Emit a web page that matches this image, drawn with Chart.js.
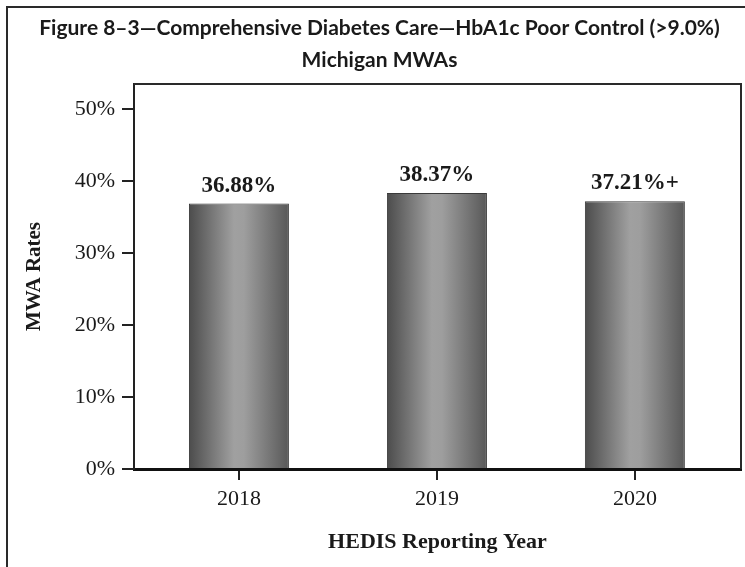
<!DOCTYPE html>
<html><head><meta charset="utf-8">
<script src="https://cdn.jsdelivr.net/npm/chart.js@4"></script>
<style>html,body{margin:0;padding:0;background:#fff}#wrap{width:745px;height:567px;position:relative}</style>
</head><body><div id="wrap"><canvas id="c" width="745" height="567"></canvas></div>
<script>
const titleLines = ['Figure 8–3—Comprehensive Diabetes Care—HbA1c Poor Control (>9.0%)', 'Michigan MWAs'];
const categories = ['2018', '2019', '2020'];
const rates = [36.88, 38.37, 37.21];
const valueLabels = ['36.88%', '38.37%', '37.21%+'];
const yTicks = [0, 10, 20, 30, 40, 50];
const yTitle = 'MWA Rates';
const xTitle = 'HEDIS Reporting Year';

const SERIF = "'Liberation Serif', 'Times New Roman', serif";
const INK = '#1a1a1a';
const BAR_SHARE = 0.505;

function barFill(context) {
  const chart = context.chart;
  const xs = chart.scales && chart.scales.x;
  if (context.type !== 'data' || !xs || !isFinite(xs.left)) return '#888';
  const cx = xs.getPixelForValue(Number(categories[context.dataIndex]));
  const step = Math.abs(xs.getPixelForValue(Number(categories[1])) - xs.getPixelForValue(Number(categories[0])));
  const half = step * BAR_SHARE / 2;
  if (!isFinite(cx) || !isFinite(half) || half <= 0) return '#888';
  const g = chart.ctx.createLinearGradient(cx - half, 0, cx + half, 0);
  g.addColorStop(0, '#4c4c4c');
  g.addColorStop(0.45, '#a0a0a0');
  g.addColorStop(0.55, '#9e9e9e');
  g.addColorStop(1, '#585858');
  return g;
}

const valueText = {
  id: 'valueText',
  afterDatasetsDraw(chart) {
    const ctx = chart.ctx;
    ctx.save();
    ctx.font = "bold 23px " + SERIF;
    ctx.fillStyle = INK;
    ctx.textAlign = 'center';
    ctx.textBaseline = 'middle';
    chart.getDatasetMeta(0).data.forEach((el, i) => {
      ctx.fillText(valueLabels[i], el.x, el.y - 18);
    });
    ctx.restore();
  }
};

const frames = {
  id: 'frames',
  afterDraw(chart) {
    const ctx = chart.ctx;
    const a = chart.chartArea;
    ctx.save();
    ctx.strokeStyle = '#2a2a2a';
    ctx.lineWidth = 2;
    ctx.beginPath();
    ctx.moveTo(a.left, a.top);
    ctx.lineTo(a.right, a.top);
    ctx.lineTo(a.right, a.bottom);
    ctx.stroke();
    ctx.beginPath();
    ctx.moveTo(7, chart.height);
    ctx.lineTo(7, 7);
    ctx.lineTo(chart.width, 7);
    ctx.stroke();
    ctx.restore();
  }
};

new Chart(document.getElementById('c'), {
  type: 'bar',
  data: {
    datasets: [{
      data: categories.map((c, i) => ({ x: Number(c), y: rates[i] })),
      backgroundColor: barFill,
      borderColor: '#3a3a3a',
      borderWidth: 1,
      barPercentage: 1,
      categoryPercentage: BAR_SHARE
    }]
  },
  options: {
    responsive: false,
    animation: false,
    layout: { padding: { left: 18, right: 4, top: 0, bottom: 0 } },
    plugins: {
      legend: { display: false },
      tooltip: { enabled: false },
      title: {
        display: true,
        text: titleLines,
        color: INK,
        font: { family: 'Lato', weight: 'bold', size: 21, lineHeight: 32 / 21 },
        padding: { top: 12, bottom: 8 }
      }
    },
    scales: {
      x: {
        type: 'linear',
        offset: false,
        min: 2017.47,
        max: 2020.536,
        afterBuildTicks: s => { s.ticks = categories.map(c => ({ value: Number(c) })); },
        afterFit: s => { s.height = 98; },
        ticks: {
          callback: (v, i) => categories[i],
          font: { family: SERIF, size: 22 },
          color: INK,
          padding: 6
        },
        grid: { drawOnChartArea: false, drawTicks: true, tickLength: 11, color: '#222', lineWidth: 2, offset: false },
        border: { display: true, color: '#111', width: 3 },
        title: {
          display: true,
          text: xTitle,
          color: INK,
          font: { family: SERIF, size: 22, weight: 'bold' },
          padding: { top: 0, bottom: 11 }
        }
      },
      y: {
        min: 0,
        max: 53.5,
        afterBuildTicks: s => { s.ticks = yTicks.map(v => ({ value: v })); },
        afterFit: s => { s.width = 116; },
        ticks: {
          callback: v => v + '%',
          font: { family: SERIF, size: 22 },
          color: INK,
          padding: 7
        },
        grid: { drawOnChartArea: false, drawTicks: true, tickLength: 12, color: '#222', lineWidth: 2 },
        border: { display: true, color: '#222', width: 2 },
        title: {
          display: true,
          text: yTitle,
          color: INK,
          font: { family: SERIF, size: 21, weight: 'bold' },
          padding: { top: 4, bottom: 0 }
        }
      }
    }
  },
  plugins: [valueText, frames]
});
</script>
</body></html>
